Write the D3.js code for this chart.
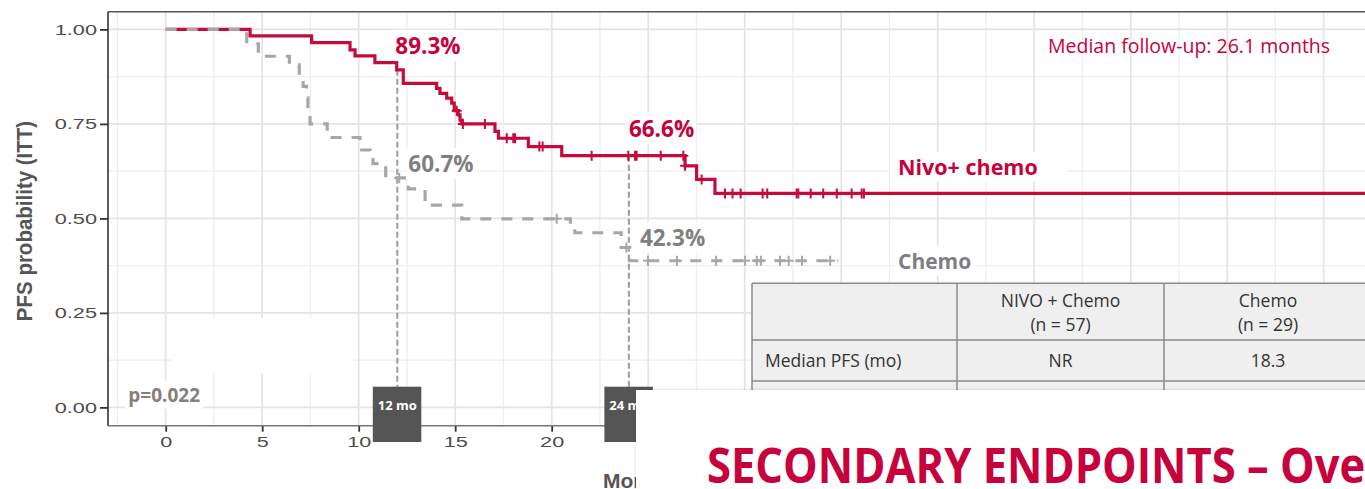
<!DOCTYPE html>
<html>
<head>
<meta charset="utf-8">
<script src="https://cdn.jsdelivr.net/npm/d3@7"></script>
<style>
  html, body { margin: 0; padding: 0; background: #fff; overflow: hidden; }
  svg { display: block; }
</style>
</head>
<body>
<svg id="chart" width="1365" height="489"></svg>
<script>
// ---- Kaplan–Meier PFS data (months, survival probability) ----
const nivoTimes = [0, 4.37, 7.56, 9.55, 9.81, 10.84, 11.97, 12.31, 14.04, 14.21, 14.56, 14.82, 14.95, 15.16, 15.25, 15.34, 17.06, 17.24, 18.79, 20.52, 26.91, 27.51, 28.46];
const nivoSurv  = [1.000, 0.983, 0.965, 0.946, 0.930, 0.912, 0.893, 0.857, 0.844, 0.831, 0.818, 0.805, 0.785, 0.774, 0.760, 0.750, 0.730, 0.712, 0.690, 0.666, 0.639, 0.603, 0.566];
const nivoCensored = [15.08, 15.40, 16.54, 17.67, 18.01, 18.10, 19.36, 19.53, 22.07, 23.97, 24.32, 24.40, 25.65, 26.82, 26.91, 27.77, 28.98, 29.37, 29.79, 30.93, 31.17, 32.69, 32.78, 33.42, 34.07, 34.77, 35.54, 36.06, 36.18];
const nivoLastTime = 62.4;

const chemoTimes = [0, 4.20, 4.80, 6.41, 6.92, 7.12, 7.30, 7.37, 7.48, 8.37, 10.07, 10.59, 10.74, 11.40, 12.57, 13.44, 15.34, 20.97, 21.20, 23.60, 24.03];
const chemoSurv  = [1.000, 0.962, 0.929, 0.906, 0.884, 0.849, 0.819, 0.783, 0.750, 0.714, 0.681, 0.663, 0.645, 0.607, 0.578, 0.535, 0.499, 0.480, 0.462, 0.423, 0.388];
const chemoCensored = [12.10, 20.26, 23.87, 24.99, 26.49, 28.52, 30.02, 30.63, 30.84, 31.83, 32.28, 32.97, 34.43];
const chemoLastTime = 34.85;

// axis ticks (labelled ones) and grid spacing
const xTicks = [0, 5, 10, 15, 20];
const yTicks = [0, 0.25, 0.5, 0.75, 1];
const yTickLabels = ["0.00", "0.25", "0.50", "0.75", "1.00"];

// landmark time points
const landmarkMonths = [12, 24];
const landmarkLabels = ["12 mo", "24 mo"];

// summary table
const tableHeadNivo = ["NIVO + Chemo", "(n = 57)"];
const tableHeadChemo = ["Chemo", "(n = 29)"];
const tableRow = ["Median PFS (mo)", "NR", "18.3"];

// ---- setup ----
const RED = "#c50b3c";
const TEXT_RED = "#c8003c";
const GREY = "#a7a7a7";
const GREY_TEXT = "#7f7f7f";

const svg = d3.select("#chart");
svg.append("rect").attr("width", 1365).attr("height", 489).attr("fill", "#fff");

const plot = { left: 108, top: 11.7, right: 1370, bottom: 425.7 };
const x = d3.scaleLinear().domain([-3, 62.4]).range([107.8, 1370]);
const y = d3.scaleLinear().domain([-0.0484, 1.0468]).range([plot.bottom, plot.top]);

const defs = svg.append("defs");
defs.append("clipPath").attr("id", "plotClip")
  .append("rect").attr("x", plot.left).attr("y", plot.top)
  .attr("width", plot.right - plot.left).attr("height", plot.bottom - plot.top);
const shadow = defs.append("filter").attr("id", "panelShadow")
  .attr("x", "-5%").attr("y", "-20%").attr("width", "110%").attr("height", "140%");
shadow.append("feDropShadow").attr("dx", 0).attr("dy", 0).attr("stdDeviation", 1.6)
  .attr("flood-color", "#000").attr("flood-opacity", 0.18);

function survAt(times, surv, t) {
  return surv[d3.bisectRight(times, t) - 1];
}

// ---- grid ----
const grid = svg.append("g").attr("clip-path", "url(#plotClip)");
const xMajor = d3.range(0, 63, 5);
const xMinor = d3.range(-2.5, 63, 5);
const yMinor = [0.125, 0.375, 0.625, 0.875];
grid.selectAll(".vminor").data(xMinor).join("line")
  .attr("x1", d => x(d)).attr("x2", d => x(d)).attr("y1", plot.top).attr("y2", plot.bottom)
  .attr("stroke", "#eeeeee").attr("stroke-width", 1.3);
grid.selectAll(".hminor").data(yMinor).join("line")
  .attr("y1", d => y(d)).attr("y2", d => y(d)).attr("x1", plot.left).attr("x2", plot.right)
  .attr("stroke", "#eeeeee").attr("stroke-width", 1.3);
grid.selectAll(".vmajor").data(xMajor).join("line")
  .attr("x1", d => x(d)).attr("x2", d => x(d)).attr("y1", plot.top).attr("y2", plot.bottom)
  .attr("stroke", "#e4e4e4").attr("stroke-width", 1.7);
grid.selectAll(".hmajor").data(yTicks).join("line")
  .attr("y1", d => y(d)).attr("y2", d => y(d)).attr("x1", plot.left).attr("x2", plot.right)
  .attr("stroke", "#e4e4e4").attr("stroke-width", 1.7);

// blank area inside the panel
svg.append("rect").attr("x", 173).attr("y", 318).attr("width", 180).attr("height", 55).attr("fill", "#fff");

// ---- landmark reference lines ----
const boxTop = 386.7;
const refG = svg.append("g");
landmarkMonths.forEach(m => {
  refG.append("line")
    .attr("x1", x(m)).attr("x2", x(m))
    .attr("y1", y(survAt(nivoTimes, nivoSurv, m))).attr("y2", boxTop)
    .attr("stroke", "#a3a3a3").attr("stroke-width", 2.2).attr("stroke-dasharray", "6,3");
});

// ---- curves ----
const curveG = svg.append("g").attr("clip-path", "url(#plotClip)");
const stepLine = d3.line().x(d => x(d[0])).y(d => y(d[1])).curve(d3.curveStepAfter);

function curvePoints(times, surv, last) {
  const pts = times.map((t, i) => [t, surv[i]]);
  pts.push([last, surv[surv.length - 1]]);
  return pts;
}

curveG.append("path")
  .attr("d", stepLine(curvePoints(nivoTimes, nivoSurv, nivoLastTime)))
  .attr("fill", "none").attr("stroke", RED).attr("stroke-width", 3.2);

curveG.append("path")
  .attr("d", stepLine(curvePoints(chemoTimes, chemoSurv, chemoLastTime)))
  .attr("fill", "none").attr("stroke", GREY).attr("stroke-width", 3.2)
  .attr("stroke-dasharray", "11,10");

function drawCensors(times, surv, censored, color) {
  const g = curveG.append("g").attr("stroke", color).attr("stroke-width", 2);
  censored.forEach(t => {
    const cx = x(t), cy = y(survAt(times, surv, t));
    g.append("line").attr("x1", cx).attr("x2", cx).attr("y1", cy - 5).attr("y2", cy + 5);
    g.append("line").attr("x1", cx - 5).attr("x2", cx + 5).attr("y1", cy).attr("y2", cy);
  });
}
drawCensors(nivoTimes, nivoSurv, nivoCensored, RED);
drawCensors(chemoTimes, chemoSurv, chemoCensored, GREY);

// ---- text labels ----
const labelG = svg.append("g");
function label(text, px, py, opts) {
  const t = labelG.append("text").attr("x", px).attr("y", py).text(text)
    .attr("fill", opts.fill)
    .style("font-family", opts.family || "'Open Sans', sans-serif")
    .style("font-size", opts.size + "px")
    .style("font-weight", opts.weight || 400);
  if (opts.bg) {
    const b = t.node().getBBox();
    const p = opts.pad || 2;
    labelG.insert("rect", () => t.node())
      .attr("x", b.x - p).attr("y", b.y - p + 2).attr("width", b.width + 2 * p).attr("height", b.height + 2 * p - 4)
      .attr("fill", "#fff");
  }
  return t;
}

const pct = d3.format(".1%");
const n12 = survAt(nivoTimes, nivoSurv, 12), n24 = survAt(nivoTimes, nivoSurv, 24);
const c12 = survAt(chemoTimes, chemoSurv, 12), c24 = survAt(chemoTimes, chemoSurv, 24);
label(pct(n12), x(12) - 2, y(n12) - 16, { fill: TEXT_RED, size: 22.5, weight: 700, bg: true });
label(pct(n24), x(24) + 0, y(n24) - 19, { fill: TEXT_RED, size: 22.5, weight: 700, bg: true });
label(pct(c12), x(12) + 11, y(c12) - 6, { fill: GREY_TEXT, size: 22.5, weight: 700, bg: true });
label(pct(c24), x(24) + 11, y(c24) - 2, { fill: GREY_TEXT, size: 22.5, weight: 700, bg: true });

labelG.append("rect").attr("x", 890).attr("y", 152).attr("width", 178).attr("height", 29).attr("fill", "#fff");
label("Nivo+ chemo", 898, 175, { fill: TEXT_RED, size: 21.5, weight: 700 });
label("Chemo", 898, 269.3, { fill: GREY_TEXT, size: 21, weight: 700, bg: true, pad: 3 });
label("Median follow-up: 26.1 months", 1048, 52.7, { fill: TEXT_RED, size: 19.5, weight: 400 });
label("p=0.022", 128.3, 401.7, { fill: "#858079", size: 19, weight: 700, bg: true, pad: 3 });

// ---- axes ----
const tickFont = "14px 'Liberation Sans', Arial, sans-serif";
const gy = svg.append("g").attr("transform", `translate(${plot.left},0)`)
  .call(d3.axisLeft(y).tickValues(yTicks).tickFormat((d, i) => yTickLabels[i]).tickSize(8));
gy.select(".domain").remove();
gy.selectAll(".tick line").attr("stroke", "#333").attr("stroke-width", 1.8);
gy.selectAll(".tick text").attr("x", null).attr("dy", "0.36em")
  .attr("transform", "translate(-11,0) scale(1.55,1)")
  .attr("fill", "#4d4d4d").style("font", tickFont);

const gx = svg.append("g").attr("transform", `translate(0,${plot.bottom})`)
  .call(d3.axisBottom(x).tickValues(xTicks).tickSize(6));
gx.select(".domain").remove();
gx.selectAll(".tick line").attr("stroke", "#333").attr("stroke-width", 1.8);
gx.selectAll(".tick text").attr("y", 0).attr("dy", null)
  .attr("transform", "translate(0,21) scale(1.55,1)")
  .attr("fill", "#4d4d4d").style("font", tickFont);

svg.append("line").attr("x1", plot.left).attr("x2", plot.right).attr("y1", plot.bottom).attr("y2", plot.bottom)
  .attr("stroke", "#777").attr("stroke-width", 1.5);
svg.append("line").attr("x1", plot.left).attr("x2", plot.right).attr("y1", plot.top).attr("y2", plot.top)
  .attr("stroke", "#555").attr("stroke-width", 1.6);
svg.append("line").attr("x1", plot.left).attr("x2", plot.left).attr("y1", plot.top).attr("y2", plot.bottom)
  .attr("stroke", "#333").attr("stroke-width", 1.6);

// axis titles
svg.append("text").text("PFS probability (ITT)")
  .attr("transform", "translate(31.5,221) scale(1.12,1) rotate(-90)")
  .attr("text-anchor", "middle").attr("fill", "#555")
  .style("font", "bold 20.5px 'Liberation Sans', Arial, sans-serif");
svg.append("text").text("Months").attr("x", 603).attr("y", 488)
  .attr("fill", "#555").style("font", "bold 21px 'Liberation Sans', Arial, sans-serif");

// ---- landmark boxes ----
landmarkMonths.forEach((m, i) => {
  svg.append("rect").attr("x", x(m) - 24.5).attr("y", boxTop).attr("width", 48.5).attr("height", 55.3).attr("fill", "#555");
  svg.append("text").text(landmarkLabels[i]).attr("x", x(m)).attr("y", 410)
    .attr("text-anchor", "middle").attr("fill", "#fff")
    .style("font", "700 13px 'Open Sans', sans-serif");
});

// ---- summary table ----
const colEdges = [752, 957, 1164, 1372];
const rowEdges = [283.3, 340, 381, 425];
const tbl = svg.append("g");
tbl.append("rect").attr("x", colEdges[0]).attr("y", rowEdges[0])
  .attr("width", colEdges[3] - colEdges[0]).attr("height", rowEdges[3] - rowEdges[0]).attr("fill", "#efefef");
rowEdges.slice(0, 3).forEach(r => tbl.append("line").attr("x1", colEdges[0]).attr("x2", colEdges[3])
  .attr("y1", r).attr("y2", r).attr("stroke", "#8a8a8a").attr("stroke-width", 1.5));
colEdges.slice(0, 3).forEach(c => tbl.append("line").attr("x1", c).attr("x2", c)
  .attr("y1", rowEdges[0]).attr("y2", rowEdges[3]).attr("stroke", "#8a8a8a").attr("stroke-width", 1.5));
const tFont = "17.5px 'Open Sans', sans-serif";
const colMid = i => (colEdges[i] + colEdges[i + 1]) / 2;
[tableHeadNivo, tableHeadChemo].forEach((lines, k) => {
  lines.forEach((s, j) => tbl.append("text").text(s).attr("x", colMid(k + 1)).attr("y", j === 0 ? 306.7 : 331)
    .attr("text-anchor", "middle").attr("fill", "#333").style("font", tFont));
});
tbl.append("text").text(tableRow[0]).attr("x", 765).attr("y", 366.7).attr("fill", "#333").style("font", tFont);
tbl.append("text").text(tableRow[1]).attr("x", colMid(1)).attr("y", 366.7).attr("text-anchor", "middle").attr("fill", "#333").style("font", tFont);
tbl.append("text").text(tableRow[2]).attr("x", colMid(2)).attr("y", 366.7).attr("text-anchor", "middle").attr("fill", "#333").style("font", tFont);

// ---- section panel with heading ----
svg.append("rect").attr("x", 636).attr("y", 390).attr("width", 800).attr("height", 140)
  .attr("fill", "#fff").attr("filter", "url(#panelShadow)");
svg.append("text").text("SECONDARY ENDPOINTS – Overall Survival")
  .attr("transform", "translate(707,483) scale(0.915,1)")
  .attr("fill", TEXT_RED).style("font", "700 47.6px 'Open Sans', sans-serif");
</script>
</body>
</html>
